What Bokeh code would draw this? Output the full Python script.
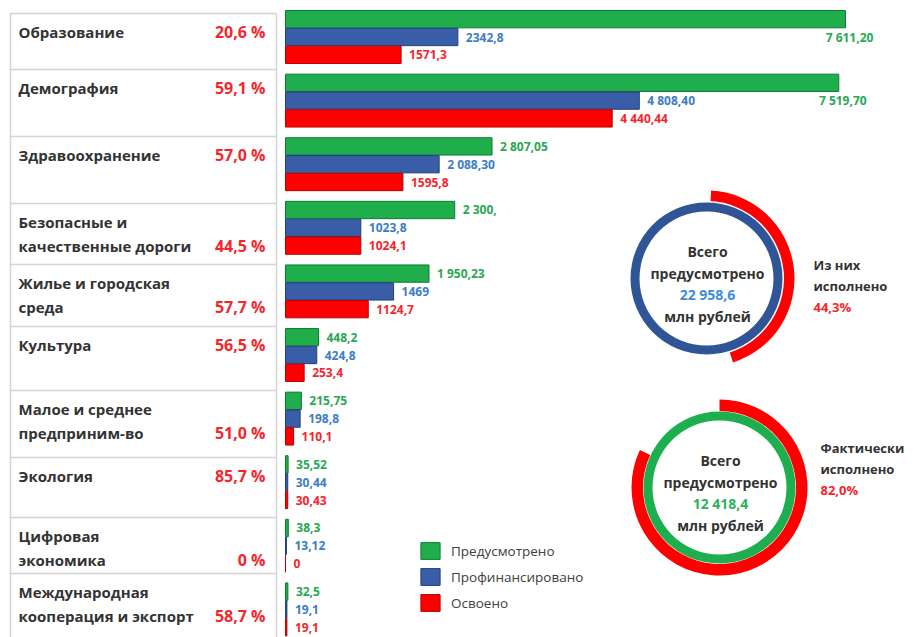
import math
from bokeh.plotting import figure
from bokeh.models import Range1d, Legend, LegendItem, ColumnDataSource
from bokeh.core.properties import value
from bokeh.transform import dodge
from bokeh.embed import file_html
from bokeh.resources import INLINE

# ---------------- data ----------------
categories = ["Образование", "Демография", "Здравоохранение",
              "Безопасные и\nкачественные дороги", "Жилье и городская\nсреда",
              "Культура", "Малое и среднее\nпредприним-во", "Экология",
              "Цифровая\nэкономика", "Международная\nкооперация и экспорт"]
percent_labels = ["20,6 %", "59,1 %", "57,0 %", "44,5 %", "57,7 %",
                  "56,5 %", "51,0 %", "85,7 %", "0 %", "58,7 %"]
series_names = ["Предусмотрено", "Профинансировано", "Освоено"]
planned = [7611.20, 7519.70, 2807.05, 2300.0, 1950.23, 448.2, 215.75, 35.52, 38.3, 32.5]
financed = [2342.8, 4808.40, 2088.30, 1023.8, 1469.0, 424.8, 198.8, 30.44, 13.12, 19.1]
mastered = [1571.3, 4440.44, 1595.8, 1024.1, 1124.7, 253.4, 110.1, 30.43, 0.0, 19.1]
planned_labels = ["7 611,20", "7 519,70", "2 807,05", "2 300,", "1 950,23",
                  "448,2", "215,75", "35,52", "38,3", "32,5"]
financed_labels = ["2342,8", "4 808,40", "2 088,30", "1023,8", "1469",
                   "424,8", "198,8", "30,44", "13,12", "19,1"]
mastered_labels = ["1571,3", "4 440,44", "1595,8", "1024,1", "1124,7",
                   "253,4", "110,1", "30,43", "0", "19,1"]

ring_total_labels = ["22 958,6", "12 418,4"]
ring_share = [44.3, 82.0]
ring_share_labels = ["44,3%", "82,0%"]
ring_captions = [["Из них", "исполнено"], ["Фактически", "исполнено"]]
ring_inner_text = ["Всего", "предусмотрено", "млн рублей"]

# ---------------- layout constants (page pixel coords) ----------------
W, H = 915, 637
X0, Y0 = 0, 0
ROW_EDGES = [13, 69, 136, 203, 264, 326, 390, 457, 517, 573, 645]
TABLE_L, TABLE_R = 10, 276
BAR_ORIGIN = 285
PX_PER_UNIT = 560 / 7611.2
ROW0_Y, ROW_PITCH = 36.5, 63.6
SUB = 0.28
RING_CENTERS = [(706, 278), (719, 487)]
RING_START = [87, 90]

FONT = value("Open Sans")
DARK = "#333333"
GREEN, GREEN_EDGE, GREEN_TXT = "#1FAE4B", "#0E7B31", "#27A852"
BLUE, BLUE_EDGE, BLUE_TXT = "#3A5DA8", "#213F7A", "#3C7DC4"
RED, RED_EDGE, RED_TXT = "#FF0000", "#B80000", "#F4262B"

p = figure(width=W, height=H, x_range=Range1d(X0, X0 + W), y_range=Range1d(Y0 + H, Y0),
           output_backend="svg", toolbar_location=None, min_border=0,
           x_axis_location=None, y_axis_location=None, outline_line_color=None)
p.grid.visible = False
p.extra_x_ranges = {"val": Range1d(-(BAR_ORIGIN - X0) / PX_PER_UNIT,
                                   (X0 + W - BAR_ORIGIN) / PX_PER_UNIT)}
n = len(categories)
p.extra_y_ranges = {"rows": Range1d((n - 1) + (Y0 + H - (ROW0_Y + (n - 1) * ROW_PITCH)) / ROW_PITCH,
                                    -(ROW0_Y - Y0) / ROW_PITCH)}

# ---------------- table ----------------
p.segment(x0=[TABLE_L] * n, x1=[TABLE_R] * n, y0=ROW_EDGES[:n], y1=ROW_EDGES[:n],
          line_color="#D4D4D4", line_width=1.5)
p.segment(x0=[TABLE_L, TABLE_R], x1=[TABLE_L, TABLE_R], y0=[ROW_EDGES[0]] * 2,
          y1=[ROW_EDGES[-1]] * 2, line_color="#D4D4D4", line_width=1.5)

lx, ly, lt, px, py, pt = [], [], [], [], [], []
for i, cat in enumerate(categories):
    lines = cat.split("\n")
    top = ROW_EDGES[i]
    for k, line in enumerate(lines):
        lx.append(18); ly.append(top + 18 + 24 * k); lt.append(line)
    px.append(265); py.append(top + 18 + 24 * (len(lines) - 1)); pt.append(percent_labels[i])
p.text(x=lx, y=ly, text=lt, text_font=FONT, text_font_style="bold", text_font_size="15px",
       text_color=DARK, text_baseline="middle")
p.text(x=px, y=py, text=pt, text_font=FONT, text_font_style="bold", text_font_size="16px",
       text_color=RED_TXT, text_baseline="middle", text_align="right")

# ---------------- bars ----------------
src = ColumnDataSource(dict(row=list(range(n)), planned=planned, financed=financed,
                            mastered=mastered))
common = dict(source=src, x_range_name="val", y_range_name="rows", left=0, height=0.272,
              line_width=1)
rg = p.hbar(y=dodge("row", -SUB), right="planned", fill_color=GREEN, line_color=GREEN_EDGE, **common)
rb = p.hbar(y=dodge("row", 0), right="financed", fill_color=BLUE, line_color=BLUE_EDGE, **common)
rr = p.hbar(y=dodge("row", SUB), right="mastered", fill_color=RED, line_color=RED_EDGE, **common)

lbl_kw = dict(x_range_name="val", y_range_name="rows", text_font=FONT, text_font_style="bold",
              text_font_size="12px", text_baseline="middle")
big = max(planned) * 0.8
nx, ny, nt, bx, by, bt = [], [], [], [], [], []
for i, (v, t) in enumerate(zip(planned, planned_labels)):
    if v > big:
        bx.append(v); by.append(i); bt.append(t)
    else:
        nx.append(v); ny.append(i - SUB); nt.append(t)
p.text(x=nx, y=ny, text=nt, x_offset=8, text_color=GREEN_TXT, **lbl_kw)
p.text(x=bx, y=by, text=bt, x_offset=4, text_align="center", text_color=GREEN_TXT, **lbl_kw)
p.text(x=financed, y=[i for i in range(n)], text=financed_labels, x_offset=8,
       text_color=BLUE_TXT, **lbl_kw)
p.text(x=mastered, y=[i + SUB for i in range(n)], text=mastered_labels, x_offset=8,
       text_color=RED_TXT, **lbl_kw)

# ---------------- rings ----------------
ring_colors = ["#2F5597", "#1DAF4E"]
ring_total_colors = ["#3C8DDB", "#2DB35A"]
for j, (cx, cy) in enumerate(RING_CENTERS):
    p.annulus(x=cx, y=cy, inner_radius=67, outer_radius=76, inner_radius_units="screen",
              outer_radius_units="screen", fill_color=ring_colors[j], line_color=None)
    start = RING_START[j]
    end = start - 3.6 * ring_share[j]
    p.annular_wedge(x=cx, y=cy, inner_radius=76.5 + (1 if j == 0 else 0), outer_radius=88,
                    inner_radius_units="screen", outer_radius_units="screen",
                    start_angle=math.radians(start), end_angle=math.radians(end),
                    direction="clock", fill_color=RED, line_color=None)
    tx = cx + 1
    ys = [cy - 27, cy - 5, cy + 16, cy + 38]
    texts = [ring_inner_text[0], ring_inner_text[1], ring_total_labels[j], ring_inner_text[2]]
    cols = [DARK, DARK, ring_total_colors[j], DARK]
    p.text(x=[tx] * 4, y=ys, text=texts, text_color=cols, text_align="center",
           text_baseline="middle", text_font=FONT, text_font_style="bold", text_font_size="14px")
    rx = cx + 107 if j == 0 else cx + 101
    ry0 = cy - 14 if j == 0 else cy - 40
    p.text(x=[rx] * 3, y=[ry0, ry0 + 21, ry0 + 42],
           text=ring_captions[j] + [ring_share_labels[j]],
           text_color=[DARK, DARK, RED_TXT], text_baseline="middle", text_font=FONT,
           text_font_style="bold", text_font_size="13px")

# ---------------- legend ----------------
legend = Legend(items=[LegendItem(label=series_names[0], renderers=[rg]),
                       LegendItem(label=series_names[1], renderers=[rb]),
                       LegendItem(label=series_names[2], renderers=[rr])],
                location=(418, 24), padding=0, margin=0, spacing=5,
                glyph_width=24, glyph_height=21, label_standoff=9,
                label_text_font="Open Sans", label_text_font_size="13.5px",
                label_text_color="#404040", border_line_color=None,
                background_fill_alpha=0)
p.add_layout(legend)

open("out.html", "w").write(file_html(p, INLINE))
